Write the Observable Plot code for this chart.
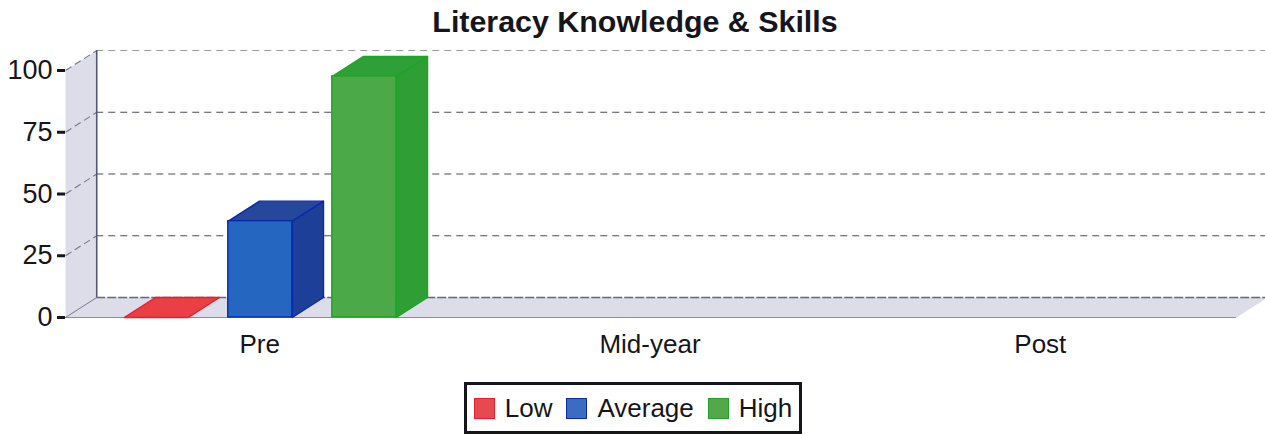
<!DOCTYPE html>
<html>
<head>
<meta charset="utf-8">
<script src="https://cdn.jsdelivr.net/npm/d3@7"></script>
<script src="https://cdn.jsdelivr.net/npm/@observablehq/plot@0.6"></script>
<style>
  html, body { margin: 0; padding: 0; background: #fff; font-family: "Liberation Sans", Arial, sans-serif; color: #15151c; overflow: hidden; }
  #title { height: 40px; line-height: 42px; text-align: center; font-size: 30.4px; font-weight: bold; width: 1270px; }
  #chart svg { display: block; }
  #legend { position: absolute; left: 464px; top: 382px; width: 332px; height: 46px; border: 3px solid #15151c; display: flex; align-items: center; justify-content: center; font-size: 26px; background: #fff; }
  #legend i { display: inline-block; width: 19px; height: 19px; border: 1px solid; margin: 0 10px 0 0; vertical-align: -2px; }
  #legend span { margin-right: 14px; }
  #legend span:last-child { margin-right: 0; }
</style>
</head>
<body>
<div id="title">Literacy Knowledge &amp; Skills</div>
<div id="chart"></div>
<div id="legend"></div>
<script>
const categories = ["Pre", "Mid-year", "Post"];
const series = ["Low", "Average", "High"];
const preValues = [0, 39, 97.6];
const yTicks = [0, 25, 50, 75, 100];
const frontColors = ["#ec4348", "#2566c0", "#4ca947"];
const sideColors = ["#ec4348", "#1e3f98", "#2f9e34"];
const topColors = ["#ea3f45", "#25479c", "#2f9f38"];
const edgeColors = ["#e2202e", "#0c2aa8", "#1da524"];
const legendColors = ["#e8494f", "#3a6cc4", "#55a84a"];

// The pseudo-3D depth, expressed in scale units
const depthX = 0.08;
const depthY = 8.1;
const barWidth = 0.164;
const barStep = 0.2665;
const barStart = 0.1505;
const xMax = categories.length;

const bars = preValues.map((v, i) => ({
  x1: barStart + i * barStep,
  x2: barStart + i * barStep + barWidth,
  v, i
}));

const face = (pts, fill, stroke, strokeWidth = 1) =>
  Plot.line(pts.map(([x, y]) => ({x, y})), {x: "x", y: "y", fill, stroke, strokeWidth, strokeLinejoin: "round"});

const gridDash = "7,5";
const gridColor = "#4d4d5c";

const marks = [
  // left wall
  face([[0, 0], [depthX, depthY], [depthX, 100 + depthY], [0, 100], [0, 0]], "#dddce9", "none"),
  // floor
  face([[0, 0], [depthX, depthY], [xMax + depthX, depthY], [xMax, 0], [0, 0]], "#dddce9", "none"),
  // back wall grid lines
  Plot.ruleY(yTicks.slice(1), {y: d => d + depthY, x1: depthX, x2: xMax + depthX, stroke: d => d === 100 ? "#9a9aa6" : gridColor, strokeWidth: 1.2, strokeDasharray: gridDash}),
  // wall grid lines
  Plot.link(yTicks.slice(1), {x1: 0, y1: d => d, x2: depthX, y2: d => d + depthY, stroke: "#77778a", strokeWidth: 1.1, strokeDasharray: "7,4"}),
  // floor edges
  Plot.ruleY([depthY], {x1: depthX, x2: xMax + depthX, stroke: "#66667a", strokeWidth: 1.4, strokeDasharray: "9,2"}),
  Plot.ruleY([0], {x1: 0, x2: xMax, stroke: "#8c8c9c", strokeWidth: 1}),
  Plot.link([0], {x1: 0, y1: 0, x2: depthX, y2: depthY, stroke: "#77778a", strokeWidth: 1}),
  // back wall axis line
  Plot.ruleX([depthX], {y1: depthY, y2: 100 + depthY, stroke: "#55557a", strokeWidth: 1.6}),
  // bars: sides and tops, then fronts
  ...bars.flatMap(b => [
    ...(b.v > 0 ? [face([[b.x2, 0], [b.x2 + depthX, depthY], [b.x2 + depthX, b.v + depthY], [b.x2, b.v], [b.x2, 0]], sideColors[b.i], edgeColors[b.i], 1.4)] : []),
    face([[b.x1, b.v], [b.x1 + depthX, b.v + depthY], [b.x2 + depthX, b.v + depthY], [b.x2, b.v], [b.x1, b.v]], topColors[b.i], edgeColors[b.i], 1.4)
  ]),
  Plot.rectY(bars.filter(b => b.v > 0), {x1: "x1", x2: "x2", y: "v", fill: b => frontColors[b.i], stroke: b => edgeColors[b.i], strokeWidth: 1.4}),
  // axes
  Plot.axisY({ticks: yTicks, tickSize: 8, tickPadding: 5, fontSize: 27, label: null, stroke: "#15151c", strokeWidth: 3, fill: "#15151c", tickFormat: d => d}),
  Plot.text(categories, {x: (d, i) => i + 0.5, y: 0, text: d => d, dx: -1, dy: 27, fontSize: 26, fill: "#15151c", lineAnchor: "middle"})
];

const chart = Plot.plot({
  width: 1265,
  height: 335,
  marginLeft: 65,
  marginRight: 29,
  marginTop: 10,
  marginBottom: 58,
  style: {background: "transparent", fontFamily: "'Liberation Sans', Arial, sans-serif"},
  x: {domain: [0, xMax], axis: null},
  y: {domain: [0, 100 + depthY]},
  color: {type: "identity"},
  marks
});
document.getElementById("chart").append(chart);

const legend = document.getElementById("legend");
series.forEach((s, i) => {
  const span = document.createElement("span");
  const sw = document.createElement("i");
  sw.style.background = legendColors[i];
  sw.style.borderColor = edgeColors[i];
  span.append(sw, s);
  legend.append(span);
});
</script>
</body>
</html>
